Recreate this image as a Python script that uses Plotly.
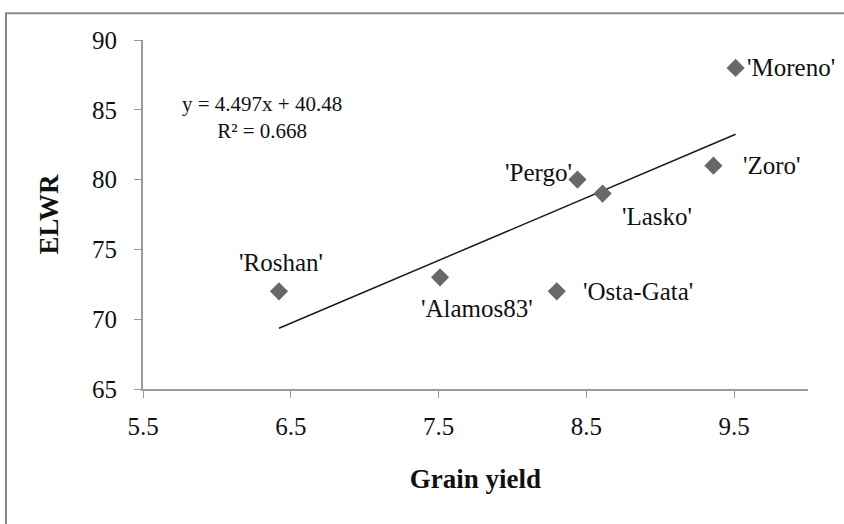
import plotly.graph_objects as go

cultivars = ["'Roshan'", "'Alamos83'", "'Osta-Gata'", "'Pergo'", "'Lasko'", "'Zoro'", "'Moreno'"]
grain_yield = [6.42, 7.51, 8.30, 8.44, 8.61, 9.36, 9.51]
elwr = [72.0, 73.0, 72.0, 80.0, 79.0, 81.0, 88.0]
slope = 4.497
intercept = 40.48
r2 = 0.668
x_ticks = [5.5, 6.5, 7.5, 8.5, 9.5]
y_ticks = [65, 70, 75, 80, 85, 90]

# label placement (pixel offsets from each point): (xshift, yshift, xanchor)
label_pos = {
    "'Roshan'": (2, 29, "center"),
    "'Alamos83'": (37, -31, "center"),
    "'Osta-Gata'": (24, 0, "left"),
    "'Pergo'": (-3, 7, "right"),
    "'Lasko'": (54, -23, "center"),
    "'Zoro'": (28, 0, "left"),
    "'Moreno'": (9, 0, "left"),
}

FONT = "Liberation Serif"
fig = go.Figure()

tx = [min(grain_yield), max(grain_yield)]
ty = [slope * v + intercept for v in tx]
fig.add_trace(go.Scatter(x=tx, y=ty, mode="lines",
                         line=dict(color="#1a1a1a", width=1.5),
                         hoverinfo="skip", showlegend=False))
fig.add_trace(go.Scatter(x=grain_yield, y=elwr, mode="markers",
                         marker=dict(symbol="diamond", size=14, color="#686868"),
                         text=cultivars, showlegend=False))

for name, xv, yv in zip(cultivars, grain_yield, elwr):
    xs, ys, xa = label_pos[name]
    fig.add_annotation(x=xv, y=yv, xref="x", yref="y", text=name, showarrow=False,
                       xshift=xs, yshift=ys, xanchor=xa, yanchor="middle",
                       font=dict(family=FONT, size=25, color="#111111"))

fig.add_annotation(x=0.179, y=0.779, xref="paper", yref="paper",
                   text=f"y = {slope}x + {intercept}<br>R² = {r2}",
                   showarrow=False, align="center", xanchor="center", yanchor="middle",
                   font=dict(family=FONT, size=21, color="#111111"))

fig.add_shape(type="rect", xref="paper", yref="paper", x0=-0.206, y0=-0.6, x1=1.2, y1=1.077,
              line=dict(color="#8a8a8a", width=2), layer="below")

fig.update_layout(
    width=844, height=524,
    margin=dict(l=143, r=36, t=40, b=135),
    paper_bgcolor="white", plot_bgcolor="white",
    font=dict(family=FONT, size=25, color="#111111"),
    xaxis=dict(range=[5.5, 10], tickvals=x_ticks, ticktext=[str(v) for v in x_ticks],
               showgrid=False, zeroline=False, showline=True, linecolor="#999999", linewidth=1.8,
               ticks="outside", ticklen=7, tickcolor="#999999", ticklabelstandoff=7,
               title=dict(text="<b>Grain yield</b>", font=dict(family=FONT, size=27), standoff=30)),
    yaxis=dict(range=[65, 90], tickvals=y_ticks, showgrid=False, zeroline=False,
               showline=True, linecolor="#999999", linewidth=1.8,
               ticks="outside", ticklen=7, tickcolor="#999999", ticklabelstandoff=12,
               title=dict(text="<b>ELWR</b>", font=dict(family=FONT, size=27), standoff=26)),
)

fig.write_html("out.html", config={"displayModeBar": False},
               post_script="document.body.style.margin='0';document.body.style.overflow='hidden';")
